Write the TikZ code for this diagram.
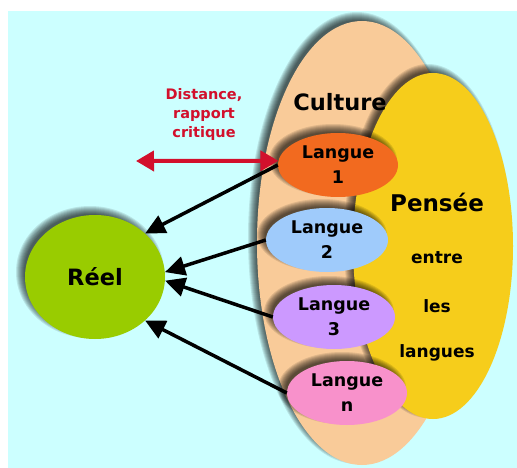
\documentclass[tikz,border=0pt]{standalone}
\usepackage{fontspec}
\setmainfont{DejaVu Sans}
\usetikzlibrary{shapes.geometric,arrows.meta}
\definecolor{bgcyan}{HTML}{CCFFFF}
\definecolor{peach}{HTML}{F9CB99}
\definecolor{pyellow}{HTML}{F6CD1B}
\definecolor{lorange}{HTML}{F26A1F}
\definecolor{lblue}{HTML}{9FCBFB}
\definecolor{lviolet}{HTML}{CC99FF}
\definecolor{lpink}{HTML}{F891CB}
\definecolor{rgreen}{HTML}{99CC00}
\definecolor{dred}{HTML}{D2102C}
\newcommand{\blurshad}[4]{%
  \foreach \k in {-4,...,4}{
    \fill[black, opacity=0.1] (#1-5,#2-5) ellipse [x radius=#3pt+\k pt, y radius=#4pt+\k pt];
  }}
\tikzset{
  ellbox/.style={ellipse, draw=none, inner sep=0pt, align=center},
  langbox/.style={ellbox, minimum width=120pt, minimum height=64pt,
    font=\bfseries\fontsize{17.5pt}{25pt}\selectfont},
  bigtxt/.style={font=\bfseries\fontsize{22.5pt}{26pt}\selectfont},
  midtxt/.style={font=\bfseries\fontsize{17pt}{20pt}\selectfont},
  redtxt/.style={font=\bfseries\fontsize{14.5pt}{19pt}\selectfont, text=dred, align=center},
  blkarrow/.style={line width=3.5pt, -{Triangle[length=20pt,width=19pt]}},
  redarrow/.style={draw=dred, line width=4pt, {Triangle[length=18pt,width=20pt]}-{Triangle[length=18pt,width=20pt]}}
}
\begin{document}
\begin{tikzpicture}[x=1pt,y=-1pt]
\useasboundingbox (0,0) rectangle (517,468);
\fill[bgcyan] (8,11) rectangle (517,468);
% Culture
\blurshad{362}{243}{105}{222}
\node[ellbox, fill=peach, minimum width=210pt, minimum height=444pt] (cult) at (362,243) {};
% Pensee
\blurshad{433}{246}{80}{173}
\node[ellbox, fill=pyellow, minimum width=160pt, minimum height=346pt] (pens) at (433,246) {};
\node[bigtxt] (cultlbl) at (340,102) {Culture};
\node[font=\bfseries\fontsize{23pt}{26pt}\selectfont] (penslbl) at (437,202) {Pensée};
\node[midtxt] (entre) at (437,258) {entre};
\node[midtxt] (les) at (437,306) {les};
\node[midtxt] (langues) at (437,353) {langues};
% Langues
\blurshad{338}{165}{60}{32}
\node[langbox, fill=lorange] (l1) at (338,165) {Langue\\1};
\blurshad{327}{240}{61}{32}
\node[langbox, fill=lblue, minimum width=122pt] (l2) at (327,240) {Langue\\2};
\blurshad{334}{317}{61}{32}
\node[langbox, fill=lviolet, minimum width=122pt] (l3) at (334,317) {Langue\\3};
\blurshad{347}{393}{60}{32}
\node[langbox, fill=lpink] (ln) at (347,393) {Langue\\n};
% Reel
\blurshad{95}{277}{70}{62}
\node[ellbox, fill=rgreen, minimum width=140pt, minimum height=124pt, bigtxt] (reel) at (95,277) {Réel};
% red label and arrow
\node[redtxt] (dist) at (204,115) {Distance,\\rapport\\critique};
\coordinate (dl) at (136,161);
\draw[redarrow] (dl) -- (l1.176);
% black arrows
\draw[blkarrow] (l1.west) -- (reel.41);
\draw[blkarrow] (l2.west) -- (reel.4);
\draw[blkarrow] (l3.west) -- (reel.-3);
\draw[blkarrow] (ln.west) -- (reel.-41);
\end{tikzpicture}
\end{document}
